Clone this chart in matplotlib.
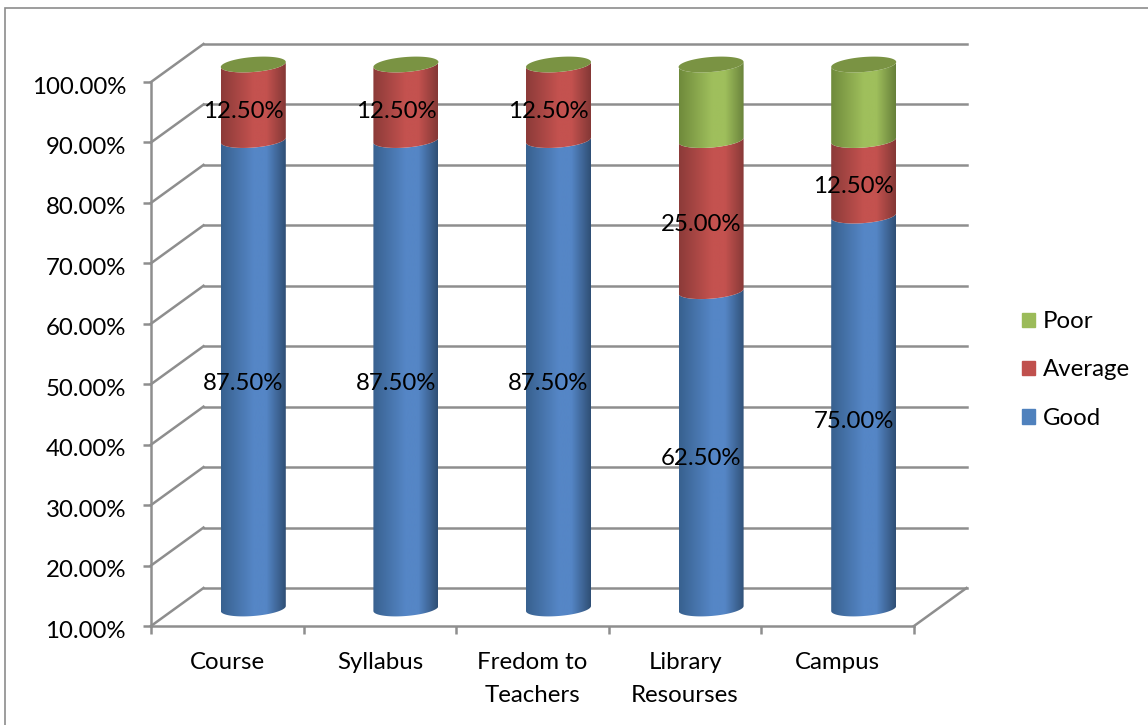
import matplotlib
matplotlib.use('Agg')
import matplotlib.pyplot as plt
from matplotlib.colors import LinearSegmentedColormap
from matplotlib.patches import PathPatch, Patch, Rectangle
from matplotlib.path import Path
from matplotlib.transforms import ScaledTranslation
import numpy as np

categories = ['Course', 'Syllabus', 'Fredom to\nTeachers', 'Library\nResourses', 'Campus']
series_names = ['Good', 'Average', 'Poor']
good = [87.5, 87.5, 87.5, 62.5, 75.0]
average = [12.5, 12.5, 12.5, 25.0, 12.5]
poor = [0.0, 0.0, 0.0, 12.5, 12.5]
y_ticks = [10, 20, 30, 40, 50, 60, 70, 80, 90, 100]

# left, mid, right colours of each cylinder band
shades = {
    'Good': ('#38618f', '#5586c6', '#2f4f75'),
    'Average': ('#8c3b39', '#c4524f', '#843836'),
    'Poor': ('#6f8a3b', '#9fbf5c', '#67803a'),
}
flat = {'Good': '#4f81bd', 'Average': '#c0504d', 'Poor': '#9bbb59'}
cap_color = '#7a9343'
grid_color = '#8e8e8e'

W, H = 1148, 725
plt.rcParams['font.family'] = ['Lato', 'DejaVu Sans']
FS = 17.25

fig = plt.figure(figsize=(W / 100, H / 100), dpi=100, facecolor='white')
# plot box in pixels: x 151-914, y 82-626
ax = fig.add_axes([151 / W, 1 - 626 / H, (914 - 151) / W, (626 - 82) / H])
ax.set_xlim(0, 5)
ax.set_ylim(10, 100)

# pixel -> data scale factors
px_x = 5 / (914 - 151)
px_y = 90 / (626 - 82)
depth_x = 52.5 * px_x
depth_y = 38 * px_y

# back wall + side wall + floor
for v in y_ticks:
    ax.plot([depth_x, 5 + depth_x], [v + depth_y, v + depth_y], color=grid_color, lw=1.8,
            clip_on=False, zorder=1)
    ax.plot([0, depth_x], [v, v + depth_y], color=grid_color, lw=1.8, clip_on=False, zorder=1)
ax.plot([5, 5 + depth_x], [10, 10 + depth_y], color=grid_color, lw=1.8, clip_on=False, zorder=1)

half_w = 32.5 * px_x
center_dx = 26 * px_x
center_dy = 17.5 * px_y
ell_b = 7.5 * px_y
ell_s = 2.5 * px_y


def front_arc(cx, level):
    t = np.linspace(np.pi, 2 * np.pi, 60)
    x = cx + half_w * np.cos(t)
    y = level + center_dy + ell_b * np.sin(t) + ell_s * np.cos(t)
    return x, y


def draw_band(cx, low, high, name):
    x0, y0 = front_arc(cx, low)
    x1, y1 = front_arc(cx, high)
    verts = np.vstack([np.c_[x0, y0], np.c_[x1[::-1], y1[::-1]], [x0[0], y0[0]]])
    clip = PathPatch(Path(verts), transform=ax.transData, fc='none', ec='none', clip_on=False)
    ax.add_patch(clip)
    left, mid, right = shades[name]
    cmap = LinearSegmentedColormap.from_list(name, [(0, left), (0.5, mid), (0.7, mid), (1, right)])
    grad = np.linspace(0, 1, 128)[None, :]
    im = ax.imshow(grad, cmap=cmap, aspect='auto', interpolation='bilinear',
                   extent=[cx - half_w, cx + half_w, low - 5, high + 10], zorder=3)
    im.set_clip_box(fig.bbox)
    im.set_clip_path(clip)


for i in range(len(categories)):
    cx = i + 0.5 + center_dx
    base = 10
    total = 0
    for name, vals in zip(series_names, [good, average, poor]):
        if vals[i] <= 0:
            continue
        total += vals[i]
        draw_band(cx, base, total, name)
        if name != 'Poor':
            # percent label sits a bit left of the cylinder centre
            ax.text(cx - 10 * px_x, (base + total) / 2 + center_dy - 9 * px_y,
                    f'{vals[i]:.2f}%', ha='center', va='center', fontsize=FS, color='black',
                    zorder=5, clip_on=False)
        base = total
    # top cap
    t = np.linspace(0, 2 * np.pi, 120)
    cap_x = cx + half_w * np.cos(t)
    cap_y = 100 + center_dy + ell_b * np.sin(t) + ell_s * np.cos(t)
    ax.fill(cap_x, cap_y, color=cap_color, lw=0, zorder=4, clip_on=False)

ax.set_xlim(0, 5)
ax.set_ylim(10, 100)
ax.set_facecolor('none')

for s in ['top', 'right']:
    ax.spines[s].set_visible(False)
for s in ['left', 'bottom']:
    ax.spines[s].set_color(grid_color)
    ax.spines[s].set_linewidth(1.8)

ax.set_yticks(y_ticks)
ax.set_yticklabels([f'{v:.2f}%' for v in y_ticks], fontsize=FS)
ax.set_xticks(range(6))
ax.set_xticklabels([])
ax.set_xticks(np.arange(5) + 0.5, minor=True)
ax.set_xticklabels(categories, minor=True, fontsize=FS, linespacing=1.66)
ax.tick_params(axis='both', which='major', length=6, width=1.8, color=grid_color, pad=12)
ax.tick_params(axis='x', which='minor', length=0, pad=19)

# y labels sit about 3 px lower than the ticks
down = ScaledTranslation(0, -3 / 100, fig.dpi_scale_trans)
for lab in ax.get_yticklabels():
    lab.set_transform(lab.get_transform() + down)

handles = [Patch(color=flat[n]) for n in series_names[::-1]]
fig.legend(handles, series_names[::-1], loc='center left', bbox_to_anchor=(1000 / W, 1 - 370 / H),
           frameon=False, fontsize=FS, handlelength=0.58, handleheight=0.58,
           handletextpad=0.3, labelspacing=1.13)

# chart frame
fig.add_artist(Rectangle((5 / W, -0.01), 1.1, 1 - 8 / H + 0.01, transform=fig.transFigure,
                         fc='none', ec='#8c8c8c', lw=1.2))

fig.savefig('out.png', dpi=100, facecolor='white')
